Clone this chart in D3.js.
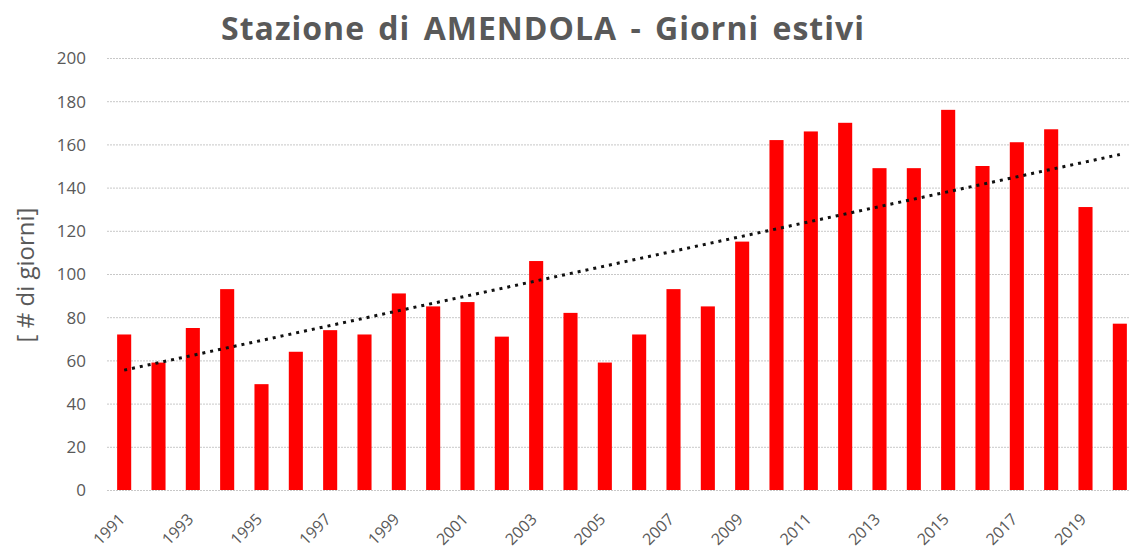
<!DOCTYPE html>
<html><head><meta charset="utf-8">
<script src="https://cdn.jsdelivr.net/npm/d3@7"></script>
<style>body{margin:0;background:#fff}svg{display:block}</style>
</head><body>
<svg id="c" width="1130" height="554"></svg>
<script>
const years = d3.range(1991, 2021);
const giorni = [72,59,75,93,49,64,74,72,91,85,87,71,106,82,59,72,93,85,115,162,166,170,149,149,176,150,161,167,131,77];
const yTicks = [0,20,40,60,80,100,120,140,160,180,200];
const xTickLabels = years.filter(y => (y - 1991) % 2 === 0);
const titolo = "Stazione di AMENDOLA - Giorni estivi";
const yLabel = "[ # di giorni]";

const svg = d3.select("#c");
const x = d3.scaleBand().domain(years).range([107, 1137]).paddingInner(0.59).paddingOuter(0.295);
const y = d3.scaleLinear().domain([0, 200]).range([490, 58]);
const grey = "#595959";

// gridlines
svg.append("g").selectAll("line").data(yTicks).join("line")
  .attr("x1", 107).attr("x2", 1130)
  .attr("y1", d => y(d) + 0.5).attr("y2", d => y(d) + 0.5)
  .attr("stroke", "#c8c8c8").attr("stroke-width", 1).attr("stroke-dasharray", "2 1");

// y axis
const yAxis = d3.axisLeft(y).tickValues(yTicks).tickSize(0).tickPadding(0);
const gy = svg.append("g").attr("transform", "translate(86,0)").call(yAxis);
gy.select(".domain").remove();
gy.selectAll("text").attr("font-family", "'Open Sans', sans-serif").attr("font-size", 17).attr("fill", grey).attr("dy", "0.35em");

// bars
svg.append("g").selectAll("rect").data(years).join("rect")
  .attr("x", d => x(d)).attr("width", x.bandwidth())
  .attr("y", (d, i) => y(giorni[i])).attr("height", (d, i) => y(0) - y(giorni[i]))
  .attr("fill", "#ff0000");

// x axis labels
const xAxis = d3.axisBottom(x).tickValues(xTickLabels).tickSize(0).tickPadding(0);
const gx = svg.append("g").attr("transform", "translate(0,514)").call(xAxis);
gx.select(".domain").remove();
gx.selectAll("text").attr("font-family", "'Open Sans', sans-serif").attr("font-size", 16).attr("fill", grey)
  .attr("text-anchor", "end").attr("dy", "0.35em").attr("dx", "-0.2em")
  .attr("transform", "rotate(-45)");

// linear trend (least squares)
const n = giorni.length;
const xs = d3.range(n);
const mx = d3.mean(xs), my = d3.mean(giorni);
const slope = d3.sum(xs, i => (i - mx) * (giorni[i] - my)) / d3.sum(xs, i => (i - mx) ** 2);
const icpt = my - slope * mx;
const trend = [0, n - 1];
svg.append("path")
  .attr("d", d3.line().x(i => x(years[i]) + x.bandwidth() / 2).y(i => y(icpt + slope * i))(trend))
  .attr("fill", "none").attr("stroke", "#111").attr("stroke-width", 3).attr("stroke-dasharray", "3 5");

// title
svg.append("text").attr("x", 543).attr("y", 40).attr("text-anchor", "middle")
  .attr("font-family", "'Open Sans', sans-serif").attr("font-weight", 700).attr("font-size", 32)
  .attr("letter-spacing", 1).attr("word-spacing", 4)
  .attr("fill", grey).text(titolo);

// y label
svg.append("text").attr("transform", "translate(34,275) rotate(-90)").attr("text-anchor", "middle")
  .attr("font-family", "'Open Sans', sans-serif").attr("font-size", 24)
  .attr("fill", grey).text(yLabel);
</script>
</body></html>
